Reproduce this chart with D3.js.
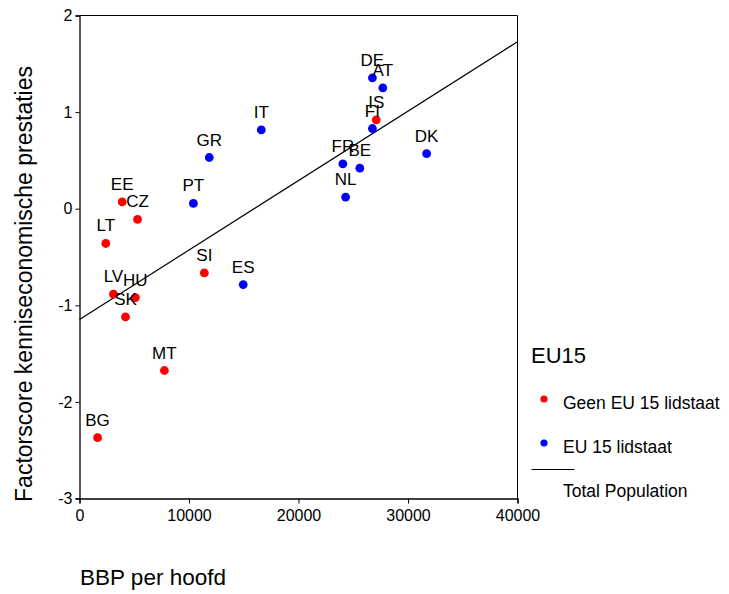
<!DOCTYPE html>
<html>
<head>
<meta charset="utf-8">
<script src="https://cdn.jsdelivr.net/npm/d3@7"></script>
<style>
  html, body { margin: 0; padding: 0; background: #fff; }
  svg { display: block; font-family: "Liberation Sans", Arial, sans-serif; }
</style>
</head>
<body>
<svg id="chart" width="729" height="594"></svg>
<script>
// Countries, GDP per capita and knowledge-economy factor score
const countries = ["DE","AT","IS","FI","IT","GR","DK","FR","BE","NL","PT","EE","CZ","LT","SI","ES","LV","HU","SK","MT","BG"];
const gdp       = [26750,27700,27100,26750,16600,11850,31700,24050,25600,24300,10400,3900,5300,2400,11400,14950,3100,5100,4200,7750,1650];
const score     = [1.355,1.25,0.92,0.83,0.815,0.53,0.57,0.465,0.42,0.12,0.055,0.07,-0.11,-0.36,-0.665,-0.785,-0.885,-0.92,-1.12,-1.675,-2.37];
// 1 = EU 15 member, 0 = not an EU 15 member
const eu15      = [1,1,0,1,1,1,1,1,1,1,1,0,0,0,0,1,0,0,0,0,0];

const groupLabels = ["Geen EU 15 lidstaat", "EU 15 lidstaat"];
const groupColors = ["#ff0000", "#0000ff"];
const fitLabel = "Total Population";
const fitIntercept = -1.147;
const fitSlope = 0.0000719;

const xTicks = [0, 10000, 20000, 30000, 40000];
const yTicks = [-3, -2, -1, 0, 1, 2];

const svg = d3.select("#chart");
const x = d3.scaleLinear().domain([0, 40000]).range([79.5, 517.5]);
const y = d3.scaleLinear().domain([-3, 2]).range([498.5, 15.5]);

// plot frame (top and right)
svg.append("path")
  .attr("d", `M${x(0)},${y(2)}H${x(40000)}V${y(-3)}`)
  .attr("fill", "none").attr("stroke", "#000").attr("stroke-width", 1);

// axes
const xAxis = svg.append("g")
  .attr("transform", `translate(0,${y(-3)})`)
  .call(d3.axisBottom(x).tickValues(xTicks).tickFormat(d => String(d)).tickSizeOuter(0).tickSize(5).tickPadding(6));
const yAxis = svg.append("g")
  .attr("transform", `translate(${x(0)},0)`)
  .call(d3.axisLeft(y).tickValues(yTicks).tickFormat(d => String(d)).tickSizeOuter(0).tickSize(4).tickPadding(3));
[xAxis, yAxis].forEach(g => {
  g.selectAll("text").attr("font-size", 16).attr("fill", "#000").attr("font-family", "Liberation Sans, Arial, sans-serif");
  g.selectAll("line").attr("stroke", "#000");
  g.select(".domain").attr("stroke", "#000").attr("stroke-width", 1.3);
});

// axis titles
svg.append("text")
  .attr("x", 80).attr("y", 585)
  .attr("font-size", 22.5).text("BBP per hoofd");
svg.append("text")
  .attr("transform", `translate(32,${284}) rotate(-90)`)
  .attr("text-anchor", "middle")
  .attr("font-size", 23).text("Factorscore kenniseconomische prestaties");

// fit line for the total population
svg.append("line")
  .attr("x1", x(0)).attr("y1", y(fitIntercept))
  .attr("x2", x(40000)).attr("y2", y(fitIntercept + fitSlope * 40000))
  .attr("stroke", "#000").attr("stroke-width", 1.2);

const data = countries.map((c, i) => ({ c, gx: gdp[i], s: score[i], g: eu15[i] }));

// points
svg.append("g").selectAll("circle").data(data).join("circle")
  .attr("cx", d => x(d.gx)).attr("cy", d => y(d.s)).attr("r", 4.4)
  .attr("fill", d => groupColors[d.g]);

// country labels above each point
svg.append("g").selectAll("text").data(data).join("text")
  .attr("x", d => x(d.gx)).attr("y", d => y(d.s) - 12)
  .attr("text-anchor", "middle").attr("font-size", 17)
  .text(d => d.c);

// legend
const lg = svg.append("g");
lg.append("text").attr("x", 531).attr("y", 363).attr("font-size", 22).text("EU15");
groupLabels.forEach((lab, i) => {
  const cy = 399 + i * 44;
  lg.append("circle").attr("cx", 544).attr("cy", cy).attr("r", 3.6).attr("fill", groupColors[i]);
  lg.append("text").attr("x", 563).attr("y", cy + 9.5).attr("font-size", 17.5).text(lab);
});
lg.append("line").attr("x1", 531.5).attr("x2", 574.5).attr("y1", 469.5).attr("y2", 469.5)
  .attr("stroke", "#000").attr("stroke-width", 1);
lg.append("text").attr("x", 563).attr("y", 497).attr("font-size", 17.5).text(fitLabel);
</script>
</body>
</html>
